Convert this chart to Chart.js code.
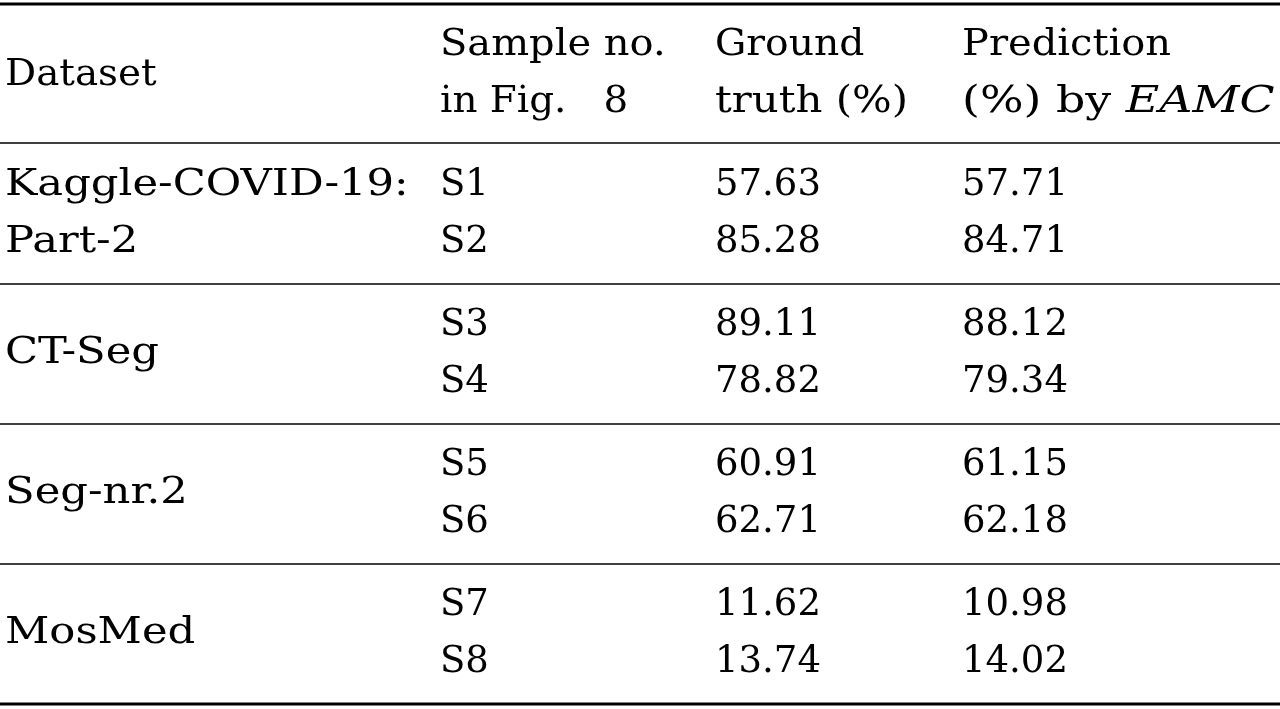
<!DOCTYPE html>
<html><head><meta charset="utf-8">
<script src="https://cdn.jsdelivr.net/npm/chart.js@4/dist/chart.umd.min.js"></script>
<style>html,body{margin:0;padding:0;background:#fff}#w{width:1280px;height:709px}</style>
</head><body><div id="w"><canvas id="c"></canvas></div>
<script>
const headers = [["Dataset"], ["Sample no.", "in Fig.   8"], ["Ground", "truth (%)"], ["Prediction", "(%) by |EAMC"]];
const datasets = [["Kaggle-COVID-19:", "Part-2"], ["CT-Seg"], ["Seg-nr.2"], ["MosMed"]];
const samples = ["S1","S2","S3","S4","S5","S6","S7","S8"];
const groundTruth = [57.63, 85.28, 89.11, 78.82, 60.91, 62.71, 11.62, 13.74];
const prediction = [57.71, 84.71, 88.12, 79.34, 61.15, 62.18, 10.98, 14.02];

// layout (pixel-like units on the scales)
const colX = [5, 440, 715, 962];
const rowY = [185, 242, 325, 382, 465, 522, 605, 662];
const rules = [[4,3],[143,1.6],[284,1.6],[424,1.6],[564,1.6],[704,3]];
const headerStretch = [[1.05], [1.08, 1.05], [1.06, 1.13], [1.08, 1.24]];
const datasetStretch = 1.17;
const FONT = "DejaVu Serif";
const FS = 37;

const tablePlugin = {
  id: 'table',
  afterDraw(chart) {
    const ctx = chart.ctx, xs = chart.scales.x, ys = chart.scales.y;
    const X = v => xs.getPixelForValue(v), Y = v => ys.getPixelForValue(v);
    ctx.save();
    ctx.fillStyle = '#000'; ctx.strokeStyle = '#000';
    rules.forEach(([y, w]) => { ctx.lineWidth = w; ctx.beginPath(); ctx.moveTo(X(0), Y(y)); ctx.lineTo(X(1280), Y(y)); ctx.stroke(); });
    ctx.textBaseline = 'middle'; ctx.textAlign = 'left';
    const txt = (s, x, y, sx = 1) => {
      const parts = s.split('|');
      ctx.save();
      ctx.translate(X(x), Y(y));
      ctx.scale(sx, 1);
      let cx = 0;
      parts.forEach((p, i) => {
        ctx.font = (i % 2 ? 'italic ' : '') + FS + 'px "' + FONT + '"';
        ctx.fillText(p, cx, 0);
        cx += ctx.measureText(p).width;
      });
      ctx.restore();
    };
    headers.forEach((h, i) => {
      if (h.length === 1) txt(h[0], colX[i], 75, headerStretch[i][0]);
      else { txt(h[0], colX[i], 45, headerStretch[i][0]); txt(h[1], colX[i], 102, headerStretch[i][1]); }
    });
    datasets.forEach((d, g) => {
      const a = rowY[g*2], b = rowY[g*2+1];
      if (d.length === 1) txt(d[0], colX[0], (a+b)/2, datasetStretch);
      else { txt(d[0], colX[0], a, datasetStretch); txt(d[1], colX[0], b, datasetStretch); }
    });
    samples.forEach((s, i) => {
      txt(s, colX[1], rowY[i]);
      txt(groundTruth[i].toFixed(2), colX[2], rowY[i]);
      txt(prediction[i].toFixed(2), colX[3], rowY[i]);
    });
    ctx.restore();
  }
};

new Chart(document.getElementById('c'), {
  type: 'scatter',
  data: { datasets: [
    { data: groundTruth.map((v, i) => ({ x: colX[2], y: rowY[i] })), pointRadius: 0 },
    { data: prediction.map((v, i) => ({ x: colX[3], y: rowY[i] })), pointRadius: 0 }
  ]},
  options: {
    responsive: true, maintainAspectRatio: false, animation: false,
    layout: { padding: 0 },
    plugins: { legend: { display: false }, tooltip: { enabled: false } },
    scales: {
      x: { type: 'linear', min: 0, max: 1280, display: false },
      y: { type: 'linear', min: 0, max: 709, reverse: true, display: false }
    }
  },
  plugins: [tablePlugin]
});
</script></body></html>
